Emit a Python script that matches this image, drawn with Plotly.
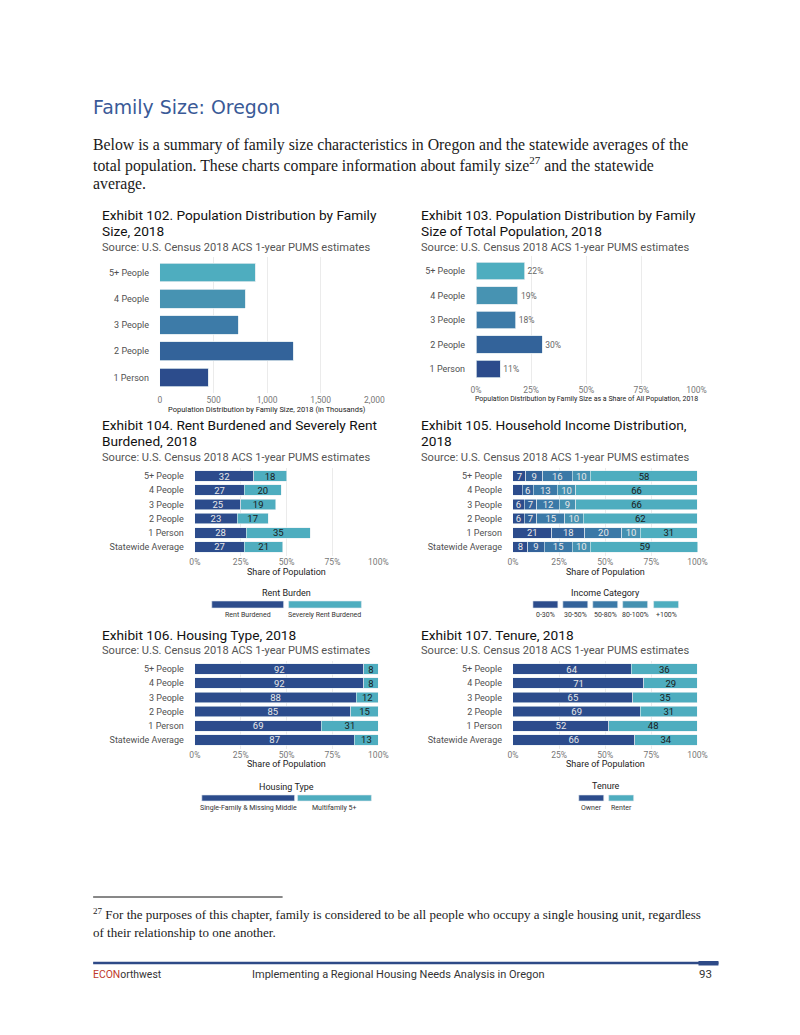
import plotly.graph_objects as go

# page is 800x1035; figure sized to fit inside the 8px body margin.
PW, PH = 800, 1035
OFF = 8
W, H = PW - 2 * OFF, PH - 2 * OFF
# measured horizontal placement of the figure's paper area on the page
PX0, PXW = 13.65, 769.1


def X(p):
    return (p - PX0) / PXW


def Y(p):
    return 1 - (p - OFF) / H


# ---------------- data ----------------
fam_cats = ["1 Person", "2 People", "3 People", "4 People", "5+ People"]
pop_thousands = [452, 1245, 728, 795, 887]
pop_share = [11, 30, 18, 19, 22]
fam_colors = ["#2C4C8C", "#33639A", "#3D7BA8", "#4793B2", "#4EADBF"]

cats6 = ["Statewide Average", "1 Person", "2 People", "3 People", "4 People", "5+ People"]
rent_burdened = [27, 28, 23, 25, 27, 32]
severe_burdened = [21, 35, 17, 19, 20, 18]

inc_0_30 = [8, 21, 6, 6, 5, 7]
inc_30_50 = [9, 18, 7, 7, 6, 9]
inc_50_80 = [15, 20, 15, 12, 13, 16]
inc_80_100 = [10, 10, 10, 9, 10, 10]
inc_100p = [59, 31, 62, 66, 66, 58]
income_names = ["0-30%", "30-50%", "50-80%", "80-100%", "+100%"]
income_colors = ["#2C4C8C", "#33629A", "#3B79A7", "#4591B1", "#4EADBF"]

single_family = [87, 69, 85, 88, 92, 92]
multifamily = [13, 31, 15, 12, 8, 8]
owner = [66, 52, 69, 65, 71, 64]
renter = [34, 48, 31, 35, 29, 36]

pct_ticks = [0, 25, 50, 75, 100]
pct_labels = ["0%", "25%", "50%", "75%", "100%"]
pop_ticks = [0, 500, 1000, 1500, 2000]
pop_labels = ["0", "500", "1,000", "1,500", "2,000"]

DARK = "#2C4C8C"
TEAL = "#4EADBF"
LIGHT_TXT = "#E8E8E8"
DARK_TXT = "#1A1A1A"
FONT = "Roboto"
SERIF = "Liberation Serif"

fig = go.Figure()

# ---------------- Exhibit 102 ----------------
fig.add_trace(go.Bar(y=fam_cats, x=pop_thousands, orientation="h", width=0.72,
                     marker=dict(color=fam_colors, line=dict(color="#DDE8EE", width=0.8)),
                     xaxis="x", yaxis="y", hoverinfo="skip"))

# ---------------- Exhibit 103 ----------------
fig.add_trace(go.Bar(y=fam_cats, x=pop_share, orientation="h", width=0.73,
                     marker=dict(color=fam_colors, line=dict(color="#DDE8EE", width=0.8)),
                     text=[f"{v}%" for v in pop_share], textposition="outside",
                     textfont=dict(size=8.5, color="#666666", family=FONT), cliponaxis=False,
                     xaxis="x2", yaxis="y2", hoverinfo="skip"))


def stacked(values, color, txtcolor, ax, min_label=0):
    fig.add_trace(go.Bar(y=cats6, x=values, orientation="h", width=0.74,
                         marker=dict(color=color, line=dict(color="#E6EEF2", width=0.6)),
                         text=[str(v) if v >= min_label else " " for v in values],
                         textposition="inside", insidetextanchor="middle", textangle=0,
                         constraintext="none",
                         textfont=dict(size=9.5, color=txtcolor, family=FONT),
                         xaxis="x" + ax, yaxis="y" + ax, hoverinfo="skip"))


# Exhibit 104
stacked(rent_burdened, DARK, LIGHT_TXT, "3")
stacked(severe_burdened, TEAL, DARK_TXT, "3")
# Exhibit 105
income_series = [inc_0_30, inc_30_50, inc_50_80, inc_80_100, inc_100p]
for i, (vals, col) in enumerate(zip(income_series, income_colors)):
    stacked(vals, col, DARK_TXT if i == 4 else LIGHT_TXT, "4", min_label=6)
# Exhibit 106
stacked(single_family, DARK, LIGHT_TXT, "5")
stacked(multifamily, TEAL, DARK_TXT, "5")
# Exhibit 107
stacked(owner, DARK, LIGHT_TXT, "6")
stacked(renter, TEAL, DARK_TXT, "6")

# ---------------- axes ----------------
layout_axes = {}


def set_axes(i, xd, yd, xrange, tickvals, ticktext, cats, standoff):
    sx = "" if i == 1 else str(i)
    layout_axes["xaxis" + sx] = dict(
        domain=[X(xd[0]), X(xd[1])], range=xrange, anchor="y" + sx,
        tickvals=tickvals, ticktext=ticktext, showgrid=True, gridcolor="#EBEBEB",
        gridwidth=1, zeroline=False, showline=False, ticks="",
        tickfont=dict(size=8.5, color="#777777", family=FONT), fixedrange=True)
    layout_axes["yaxis" + sx] = dict(
        domain=[Y(yd[1]), Y(yd[0])], anchor="x" + sx, type="category",
        categoryorder="array", categoryarray=cats, range=[-0.6, len(cats) - 0.4],
        showgrid=False, zeroline=False, showline=False, ticks="",
        ticklabelstandoff=standoff,
        tickfont=dict(size=9.0, color="#505050", family=FONT), fixedrange=True)


set_axes(1, (160, 375), (256.75, 393.25), [0, 2000], pop_ticks, pop_labels, fam_cats, 10)
set_axes(2, (477, 698), (256.3, 383.7), [0, 100], pct_ticks, pct_labels, fam_cats, 10)
set_axes(3, (195, 379), (467.5, 555.5), [0, 100], pct_ticks, pct_labels, cats6, 10)
set_axes(4, (514, 699), (467.5, 555.5), [0, 100], pct_ticks, pct_labels, cats6, 10)
set_axes(5, (195, 379), (660.5, 748.5), [0, 100], pct_ticks, pct_labels, cats6, 10)
set_axes(6, (514, 699), (660.5, 748.5), [0, 100], pct_ticks, pct_labels, cats6, 10)

# ---------------- text ----------------
ann = []
shapes = []
PAD = 2.5  # annotation box padding


def txt(x, y, s, size, color="#222222", family=FONT, xanchor="left"):
    xx = x - PAD if xanchor == "left" else (x + PAD if xanchor == "right" else x)
    ann.append(dict(x=X(xx), y=Y(y), xref="paper", yref="paper", text=s, showarrow=False,
                    xanchor=xanchor, yanchor="middle",
                    font=dict(size=size, color=color, family=family)))


def rect(x0, y0, x1, y1, color):
    shapes.append(dict(type="rect", xref="paper", yref="paper", x0=X(x0), x1=X(x1),
                       y0=Y(y1), y1=Y(y0), fillcolor=color, line=dict(width=0),
                       layer="above"))


# page header
txt(93, 107, "Family Size: Oregon", 18.9, "#3A5A97", "DejaVu Sans")
body = ["Below is a summary of family size characteristics in Oregon and the statewide averages of the",
        "total population. These charts compare information about family size<sup>27</sup> and the statewide",
        "average."]
for k, line in enumerate(body):
    txt(93, 145 + k * 19.5, line, 15.8, "#1A1A1A", SERIF)

SRC = "Source: U.S. Census 2018 ACS 1-year PUMS estimates"
TS, SS = 13.7, 11.1
# Exhibit titles
txt(102, 215, "Exhibit 102. Population Distribution by Family", TS, "#111111")
txt(102, 231, "Size, 2018", TS, "#111111")
txt(102, 247, SRC, SS, "#555555")
txt(422, 215, "Exhibit 103. Population Distribution by Family", TS, "#111111")
txt(422, 231, "Size of Total Population, 2018", TS, "#111111")
txt(422, 247, SRC, SS, "#555555")
txt(102, 425, "Exhibit 104. Rent Burdened and Severely Rent", TS, "#111111")
txt(102, 441, "Burdened, 2018", TS, "#111111")
txt(102, 457, SRC, SS, "#555555")
txt(422, 425, "Exhibit 105. Household Income Distribution,", TS, "#111111")
txt(422, 441, "2018", TS, "#111111")
txt(422, 457, SRC, SS, "#555555")
txt(102, 635, "Exhibit 106. Housing Type, 2018", TS, "#111111")
txt(102, 650, SRC, SS, "#555555")
txt(422, 635, "Exhibit 107. Tenure, 2018", TS, "#111111")
txt(422, 650, SRC, SS, "#555555")

# axis titles
txt(267.5, 410, "Population Distribution by Family Size, 2018 (in Thousands)", 7.5, "#222222", xanchor="center")
txt(587.5, 399, "Population Distribution by Family Size as a Share of All Population, 2018", 7, "#222222", xanchor="center")
for cx, cy in [(287, 572), (606.5, 572), (287, 764), (606.5, 764)]:
    txt(cx, cy, "Share of Population", 9, "#222222", xanchor="center")


# legends
def legend(title, cx, ty, keys, labels, colors, ky=(601, 608), ly=615, lsize=7):
    txt(cx, ty, title, 9, "#222222", xanchor="center")
    for (k0, k1), lab, col in zip(keys, labels, colors):
        rect(k0, ky[0], k1, ky[1], col)
        shapes[-1]["line"] = dict(color="#E0E8EE", width=0.6)
        txt((k0 + k1) / 2, ly, lab, lsize, "#333333", xanchor="center")


legend("Rent Burden", 287, 593, [(212, 284), (289, 362)],
       ["Rent Burdened", "Severely Rent Burdened"], [DARK, TEAL])
legend("Income Category", 607, 593,
       [(534, 559), (564, 589), (594, 619), (624, 649), (655, 680)],
       income_names, income_colors)
legend("Housing Type", 287, 787, [(202, 295), (298, 372)],
       ["Single-Family & Missing Middle", "Multifamily 5+"], [DARK, TEAL],
       ky=(795, 801), ly=808)
legend("Tenure", 607, 786, [(580, 605), (610, 635)], ["Owner", "Renter"], [DARK, TEAL],
       ky=(795, 801), ly=808)

# footnote
shapes.append(dict(type="line", xref="paper", yref="paper", x0=X(93), x1=X(283),
                   y0=Y(897), y1=Y(897), line=dict(color="#111111", width=1)))
txt(93, 914, "<sup>27</sup> For the purposes of this chapter, family is considered to be all people who occupy a single housing unit, regardless",
    13.0, "#1A1A1A", SERIF)
txt(93, 932, "of their relationship to one another.", 13.0, "#1A1A1A", SERIF)

# footer
shapes.append(dict(type="line", xref="paper", yref="paper", x0=X(93), x1=X(720),
                   y0=Y(963), y1=Y(963), line=dict(color="#2E4A87", width=2.5)))
rect(700, 961, 720, 965.5, "#2E4A87")
txt(93, 974, "<span style='color:#C0392B'>ECON</span>orthwest", 10.4, "#333333", FONT)
txt(253, 974, "Implementing a Regional Housing Needs Analysis in Oregon", 11, "#333333", FONT)
txt(713, 974, "93", 11.5, "#333333", FONT, xanchor="right")

fig.update_layout(
    width=W, height=H, margin=dict(l=0, r=0, t=0, b=0),
    paper_bgcolor="white", plot_bgcolor="white",
    barmode="stack", showlegend=False,
    font=dict(family=FONT),
    annotations=ann, shapes=shapes,
    **layout_axes,
)

fig.write_html("out.html")
